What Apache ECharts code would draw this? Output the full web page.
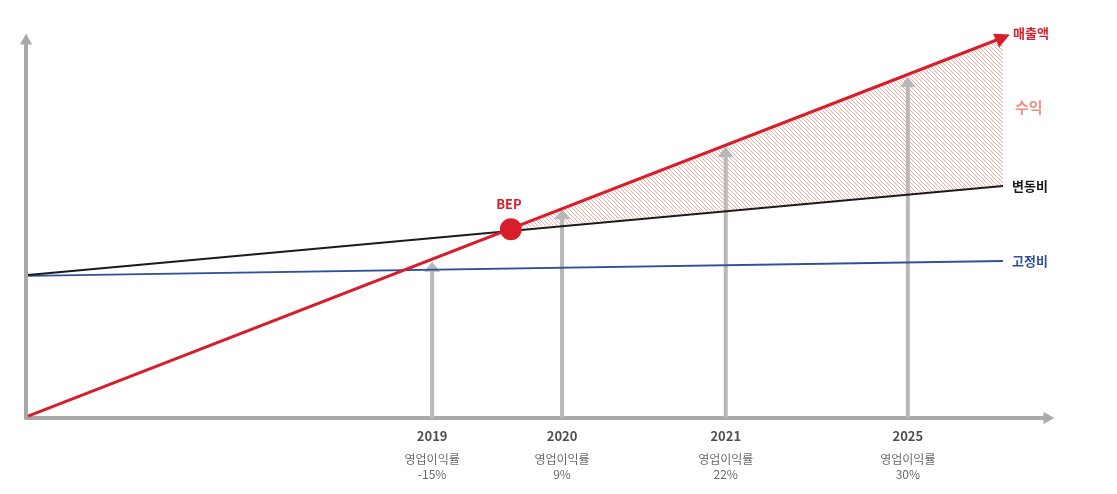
<!DOCTYPE html>
<html><head><meta charset="utf-8">
<script src="https://cdn.jsdelivr.net/npm/echarts@6/dist/echarts.min.js"></script>
<style>html,body{margin:0;padding:0;background:#fff}#c{width:1117px;height:494px}</style>
</head><body><div id="c"></div>
<script>
// x and y in chart units (0..100)
var lineX = [0.2, 95.5];
var revenue = [0.5, 100.4];      // 매출액
var variableCost = [37.7, 61.2]; // 변동비
var fixedCost = [37.5, 41.4];    // 고정비
var bep = [47.4, 49.8];
var profitLabelPos = [95.5, 82];
var years = ['2019', '2020', '2021', '2025'];
var yearX = [39.7, 52.4, 68.4, 86.2];
var arrowTop = [41.2, 55.1, 71.5, 90.0];
var marginLabel = '영업이익률';
var margins = ['-15%', '9%', '22%', '30%'];

var FONT = '"Noto Sans CJK KR", "Noto Sans", sans-serif';
var RED = '#d71f2b', BLACK = '#1b1b1b', BLUE = '#30509e', GRAY = '#b8b8b8', AXIS = '#a9a9a9';

var pc = document.createElement('canvas');
pc.width = 4; pc.height = 4;
var g = pc.getContext('2d');
g.strokeStyle = 'rgba(236,130,112,0.75)'; g.lineWidth = 0.9;
g.beginPath();
g.moveTo(-1, -1); g.lineTo(5, 5);
g.moveTo(-1, 3); g.lineTo(1, 5);
g.moveTo(3, -1); g.lineTo(5, 1);
g.stroke();

function pairs(xs, ys) { return xs.map(function (x, i) { return [x, ys[i]]; }); }

var chart = echarts.init(document.getElementById('c'), null, {renderer: 'canvas'});
var axisCommon = {
  type: 'value', min: 0, max: 100,
  axisLabel: {show: false}, axisTick: {show: false}, splitLine: {show: false},
  axisLine: {show: true, lineStyle: {color: AXIS, width: 4}, symbol: ['none', 'triangle'], symbolSize: [12, 11]}
};
chart.setOption({
  animation: false,
  grid: {left: 26, right: 68, top: 39, bottom: 76},
  xAxis: axisCommon,
  yAxis: axisCommon,
  series: [
    { // hatched profit area
      type: 'custom', z: 1, clip: false, data: [0],
      renderItem: function (params, api) {
        var pts = [
          api.coord(bep),
          api.coord([lineX[1], revenue[1]]),
          api.coord([lineX[1], variableCost[1]])
        ];
        return {type: 'polygon', shape: {points: pts},
          style: {fill: {image: pc, repeat: 'repeat'}, stroke: null}};
      }
    },
    { // gray year arrows
      type: 'custom', z: 2, clip: false,
      data: yearX.map(function (x, i) { return [x, arrowTop[i]]; }),
      renderItem: function (params, api) {
        var b = api.coord([api.value(0), 0]);
        var t = api.coord([api.value(0), api.value(1)]);
        return {type: 'group', children: [
          {type: 'rect', shape: {x: b[0] - 2, y: t[1] + 9, width: 4, height: b[1] - t[1] - 9}, style: {fill: GRAY}},
          {type: 'polygon', shape: {points: [[t[0], t[1]], [t[0] - 8, t[1] + 10], [t[0] + 8, t[1] + 10]]}, style: {fill: GRAY}}
        ]};
      }
    },
    {
      type: 'line', z: 3, clip: false, data: pairs(lineX, fixedCost), symbol: 'none',
      lineStyle: {color: BLUE, width: 2},
      endLabel: {show: true, formatter: '고정비', color: BLUE, fontFamily: FONT, fontWeight: 'bold', fontSize: 13, distance: 9}
    },
    {
      type: 'line', z: 4, clip: false, data: pairs(lineX, variableCost), symbol: 'none',
      lineStyle: {color: BLACK, width: 2},
      endLabel: {show: true, formatter: '변동비', color: BLACK, fontFamily: FONT, fontWeight: 'bold', fontSize: 13, distance: 9}
    },
    {
      type: 'line', z: 5, clip: false,
      data: [
        {value: [lineX[0], revenue[0]], symbol: 'none'},
        {value: [lineX[1], revenue[1]], symbol: 'triangle', symbolSize: [15, 15], symbolRotate: -66,
         itemStyle: {color: RED, opacity: 1}}
      ],
      showSymbol: true,
      lineStyle: {color: RED, width: 3},
      endLabel: {show: true, formatter: '매출액', color: RED, fontFamily: FONT, fontWeight: 'bold', fontSize: 13, distance: 10, offset: [0, -4]}
    },
    { // BEP point
      type: 'scatter', z: 6, clip: false, data: [bep], symbolSize: 22,
      itemStyle: {color: RED, opacity: 1},
      label: {show: true, position: 'top', formatter: 'BEP', color: RED, fontFamily: FONT, fontWeight: 'bold', fontSize: 13, distance: 8, offset: [-2, 0]}
    },
    { // 수익 label
      type: 'scatter', z: 6, clip: false, data: [profitLabelPos], symbolSize: 0,
      label: {show: true, position: 'right', formatter: '수익', color: '#e8746a', fontFamily: FONT, fontWeight: 'bold', fontSize: 15, distance: 12}
    },
    { // year labels under axis
      type: 'scatter', z: 6, clip: false, symbolSize: 0,
      data: yearX.map(function (x, i) { return {value: [x, 0], name: years[i]}; }),
      label: {
        show: true, position: 'bottom', distance: 3,
        formatter: function (p) { return '{y|' + years[p.dataIndex] + '}\n{t|' + marginLabel + '}\n{t|' + margins[p.dataIndex] + '}'; },
        rich: {
          y: {fontFamily: FONT, fontWeight: 'bold', fontSize: 13, color: '#222', lineHeight: 31, align: 'center'},
          t: {fontFamily: FONT, fontSize: 12, color: '#444', lineHeight: 15, align: 'center'}
        }
      }
    }
  ]
});
</script></body></html>
